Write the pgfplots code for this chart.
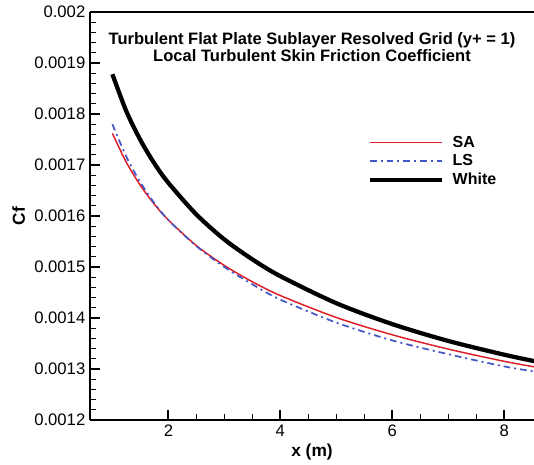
\documentclass[border=0pt]{standalone}
\usepackage{pgfplots}
\pgfplotsset{compat=1.18}
\usepackage{fontspec}
\setmainfont{Liberation Sans}
\definecolor{sared}{RGB}{222,30,38}
\definecolor{lsblue}{RGB}{66,86,196}
\pgfplotstableread{
x y
1.00 0.001762
1.25 0.001705
1.50 0.001660
1.75 0.001623
2.00 0.001592
2.50 0.001542
3.00 0.001503
3.50 0.001471
4.00 0.001444
5.00 0.001401
6.00 0.001367
7.00 0.001339
8.00 0.001315
8.60 0.001303
}\sa
\pgfplotstableread{
x y
1.00 0.001780
1.25 0.001716
1.50 0.001666
1.75 0.001625
2.00 0.001592
2.50 0.001541
3.00 0.001500
3.50 0.001466
4.00 0.001436
5.00 0.001391
6.00 0.001356
7.00 0.001329
8.00 0.001305
8.60 0.001294
}\ls
\pgfplotstableread{
x y
1.00 0.001878
1.25 0.001805
1.50 0.001749
1.75 0.001703
2.00 0.001665
2.50 0.001603
3.00 0.001554
3.50 0.001515
4.00 0.001482
5.00 0.001429
6.00 0.001388
7.00 0.001355
8.00 0.001328
8.60 0.001314
}\white
\begin{document}
\begin{tikzpicture}
\begin{axis}[
  at={(0,0)}, anchor=south west,
  scale only axis, width=333pt, height=306pt,
  xmin=0.6, xmax=8.53, ymin=0.0012, ymax=0.002,
  axis x line*=box, axis y line*=left,
  axis line style={line width=1.5pt},
  xtick={2,4,6,8}, minor x tick num=3,
  ytick={0.0012,0.0013,0.0014,0.0015,0.0016,0.0017,0.0018,0.0019,0.002},
  minor y tick num=4,
  xtick pos=bottom, ytick pos=left,
  tick align=inside,
  major tick length=7.5pt, minor tick length=4.5pt,
  every major tick/.style={line width=1.5pt, black},
  every minor tick/.style={line width=0.8pt, black},
  scaled y ticks=false,
  yticklabel style={/pgf/number format/.cd, fixed, precision=4},
  /pgf/number format/assume math mode=true,
  tick label style={font=\fontsize{12.5}{14}\selectfont},
  xlabel={\textbf{x (m)}}, ylabel={\textbf{Cf}},
  label style={font=\fontsize{13}{15}\selectfont},
  xlabel style={yshift=1pt},
  title={\textbf{Turbulent Flat Plate Sublayer Resolved Grid (y+ = 1)}\\\textbf{Local Turbulent Skin Friction Coefficient}},
  title style={at={(0.5,1)}, anchor=north, yshift=-18pt, align=center, font=\fontsize{12.4}{12.8}\selectfont},
  legend style={at={(0.616,0.71)}, anchor=north west, draw=none, fill=none,
    font=\bfseries\fontsize{12}{14}\selectfont, row sep=0pt, cells={anchor=west}},
  legend image code/.code={\draw[#1] (0pt,0pt) -- (54pt,0pt); \path (58.5pt,0pt);},
]
\addplot[sared, line width=1.1pt, smooth] table {\sa};
\addlegendentry{SA}
\addplot[lsblue, line width=1.3pt, smooth, dash pattern=on 5pt off 3pt on 1.5pt off 3pt] table {\ls};
\addlegendentry{LS}
\addplot[black, line width=3.2pt, smooth] table {\white};
\addlegendentry{White}
\end{axis}
\pgfresetboundingbox
\path[use as bounding box] (-67.5pt,-33pt) rectangle (333pt,315pt);
\end{tikzpicture}
\end{document}
